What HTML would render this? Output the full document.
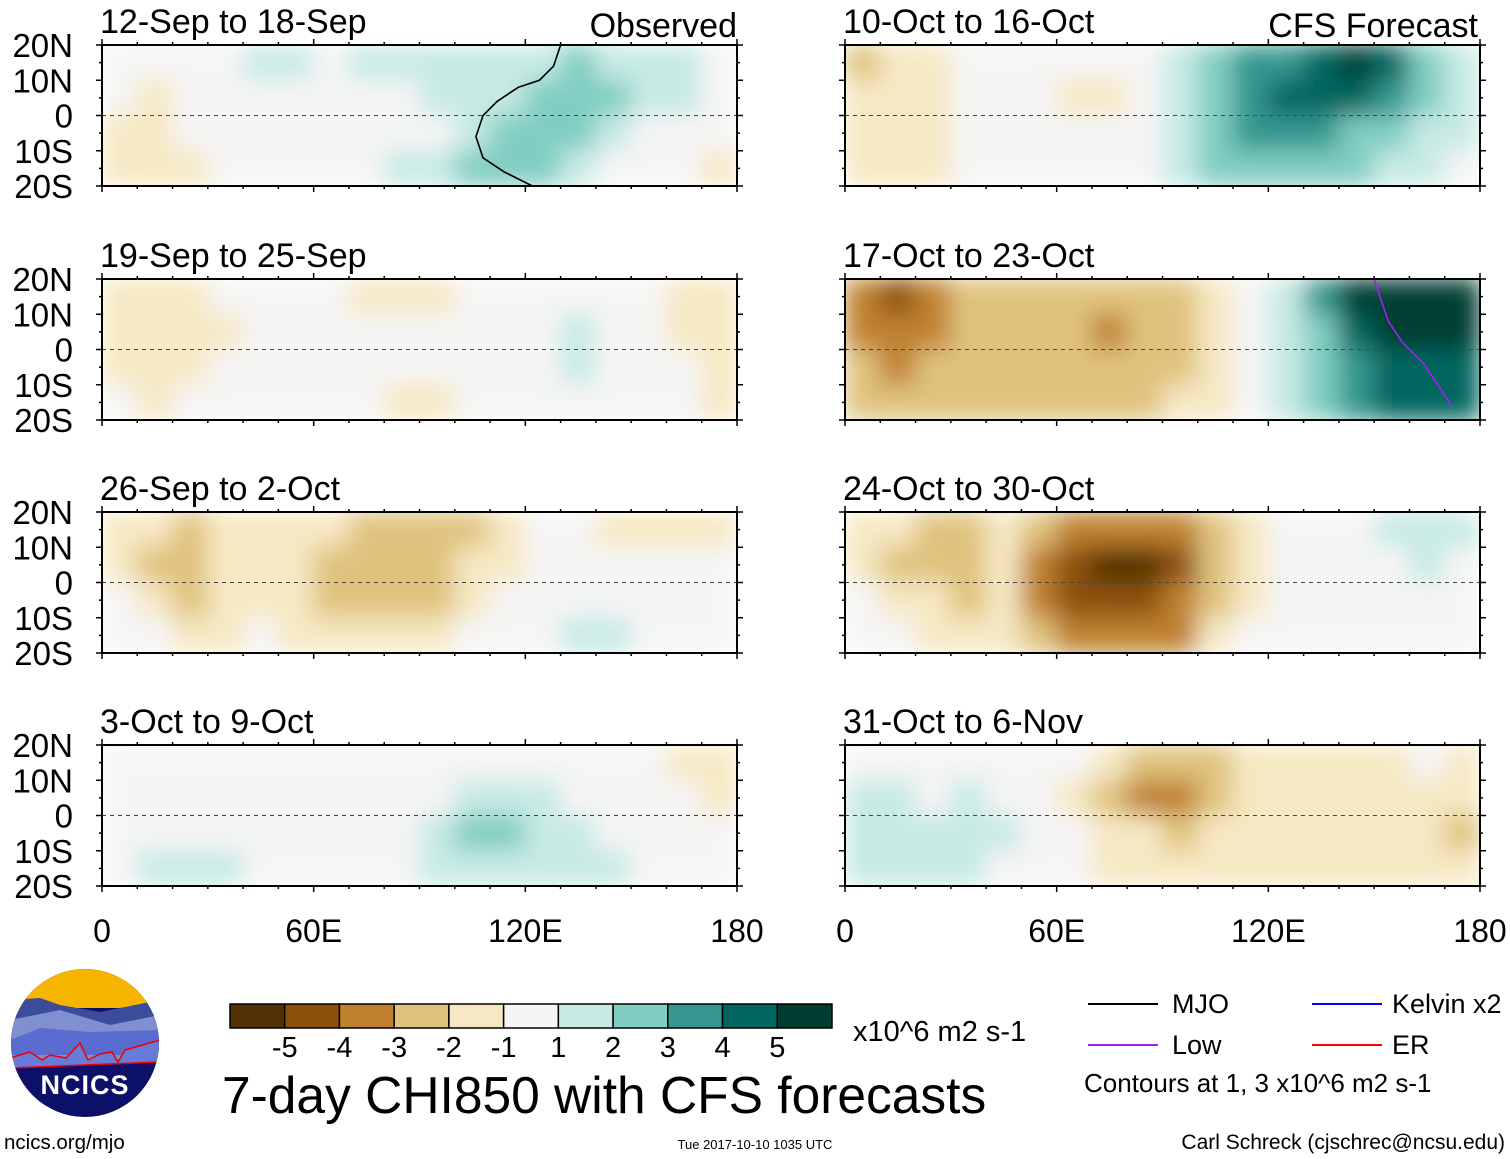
<!DOCTYPE html>
<html><head><meta charset="utf-8"><style>
html,body{margin:0;padding:0;background:#fff;}
svg{display:block;font-family:"Liberation Sans",sans-serif;}
</style></head><body>
<svg id="root" width="1510" height="1159" viewBox="0 0 1510 1159" xmlns="http://www.w3.org/2000/svg">
<defs>
<filter id="smooth" x="0" y="0" width="1" height="1" filterUnits="objectBoundingBox"><feGaussianBlur stdDeviation="12" edgeMode="duplicate"/></filter>
</defs>
<g id="panels"></g>
<g id="legend">
  <g>
    <clipPath id="logoclip"><circle cx="85" cy="1043" r="74"/></clipPath>
    <g clip-path="url(#logoclip)">
      <rect x="10" y="968" width="150" height="150" fill="#0c1068"/>
      <rect x="10" y="968" width="150" height="40" fill="#f7b500"/>
      <path d="M10 1000 L40 998 L60 1005 L100 1012 L160 1000 L160 1060 L10 1060Z" fill="#3a4c9a"/>
      <path d="M10 1020 L60 1010 L110 1025 L160 1015 L160 1060 L10 1060Z" fill="#7f8fd0"/>
      <path d="M10 1040 L40 1028 L90 1032 L160 1030 L160 1055 L10 1055Z" fill="#5a6cd0"/>
      <path d="M10 1058 L30 1052 L42 1060 L50 1055 L66 1058 L80 1043 L88 1060 L100 1054 L112 1052 L118 1062 L125 1050 L160 1040 L160 1062 L10 1068Z" fill="#6a7ad8" stroke="#e00" stroke-width="1.5"/>
    </g>
    <text x="85" y="1094" font-size="27" font-weight="bold" fill="#fff" text-anchor="middle" letter-spacing="1">NCICS</text>
  </g>
  <text x="4" y="1149" font-size="20.5">ncics.org/mjo</text>
  <g id="cbar"></g>
  <text x="853" y="1041" font-size="29">x10^6 m2 s-1</text>
  <text x="222" y="1113" font-size="51.5">7-day CHI850 with CFS forecasts</text>
  <text x="755" y="1149" font-size="13" text-anchor="middle">Tue 2017-10-10 1035 UTC</text>
  <text x="1505" y="1149" font-size="21" text-anchor="end">Carl Schreck (cjschrec@ncsu.edu)</text>
  <g><line x1="1088" y1="1004" x2="1158" y2="1004" stroke="#000" stroke-width="2"/><text x="1172" y="1013" font-size="27">MJO</text></g>
  <g><line x1="1312" y1="1004" x2="1382" y2="1004" stroke="#0000ff" stroke-width="2"/><text x="1392" y="1013" font-size="27">Kelvin x2</text></g>
  <g><line x1="1088" y1="1045" x2="1158" y2="1045" stroke="#a020f0" stroke-width="2"/><text x="1172" y="1054" font-size="27">Low</text></g>
  <g><line x1="1312" y1="1045" x2="1382" y2="1045" stroke="#ff0000" stroke-width="2"/><text x="1392" y="1054" font-size="27">ER</text></g>
  <text x="1084" y="1092" font-size="26">Contours at 1, 3 x10^6 m2 s-1</text>
</g>
</svg>
<script>
const NS="http://www.w3.org/2000/svg";
const palette=["#543005","#8c510a","#bf812d","#dfc27d","#f6e8c3","#f5f5f5","#c7eae5","#80cdc1","#35978f","#01665e","#003c30"];
const colorbarLabels=["-5","-4","-3","-2","-1","1","2","3","4","5"];
const latLabels=["20N","10N","0","10S","20S"];
const lonLabels=["0","60E","120E","180"];
const panelTitles=["12-Sep to 18-Sep","19-Sep to 25-Sep","26-Sep to 2-Oct","3-Oct to 9-Oct","10-Oct to 16-Oct","17-Oct to 23-Oct","24-Oct to 30-Oct","31-Oct to 6-Nov"];
const p1=[[0,0,0,0,1,1,0,1,1,1,1,1,1,2,1,1,1,0],[0,-1,0,0,0,0,0,0,0,1,1,1,2,2,2,1,1,0],[-1,-1,0,0,0,0,0,0,0,0,1,2,2,2,1,0,0,0],[-1,-1,-1,0,0,0,0,0,1,1,2,2,2,1,0,0,0,-1]];
const p2=[[-1,-1,-1,0,0,0,0,-1,-1,-1,0,0,0,0,0,0,-1,-1],[-1,-1,-1,-1,0,0,0,0,0,0,0,0,0,1,0,0,-1,-1],[-1,-1,-1,0,0,0,0,0,0,0,0,0,0,1,0,0,0,-1],[0,-1,0,0,0,0,0,0,-1,-1,0,0,0,0,0,0,0,-1]];
const p3=[[-1,-1,-2,-1,-1,-1,-1,-2,-2,-2,-2,-1,0,0,-1,-1,-1,-1],[-1,-2,-2,-1,-1,-1,-2,-2,-2,-2,-1,-1,0,0,0,0,0,0],[0,-1,-2,-1,-1,-1,-2,-2,-2,-2,-1,0,0,0,0,0,0,0],[0,0,-1,-1,0,-1,-1,-1,-1,-1,0,0,0,1,1,0,0,0]];
const p4=[[0,0,0,0,0,0,0,0,0,0,0,0,0,0,0,0,-1,-1],[0,0,0,0,0,0,0,0,0,0,1,1,1,0,0,0,0,-1],[0,0,0,0,0,0,0,0,0,1,2,2,1,1,0,0,0,0],[0,1,1,1,0,0,0,0,0,1,1,1,1,1,1,0,0,0]];
const p5=[[-2,-1,-1,0,0,0,0,0,0,1,2,3,3,4,5,4,2,1],[-1,-1,-1,0,0,0,-1,-1,0,1,2,3,4,4,4,3,2,1],[-1,-1,-1,0,0,0,0,0,0,1,2,3,3,3,2,2,1,1],[-1,-1,-1,0,0,0,0,0,0,1,2,2,2,2,2,1,1,0]];
const p6=[[-3,-4,-3,-2,-2,-2,-2,-2,-2,-2,-1,0,1,3,5,5,5,5],[-3,-3,-3,-2,-2,-2,-2,-3,-2,-2,-1,0,1,2,4,5,5,5],[-2,-3,-2,-2,-2,-2,-2,-2,-2,-2,-1,0,1,2,3,4,4,4],[-2,-2,-2,-2,-2,-2,-2,-2,-2,-1,-1,0,1,2,3,4,4,4]];
const p7=[[-1,-1,-2,-2,-1,-2,-3,-3,-3,-3,-2,-1,0,0,0,1,1,1],[-1,-2,-2,-2,-1,-3,-4,-5,-5,-4,-2,-1,0,0,0,0,1,0],[0,-1,-1,-2,-1,-3,-4,-4,-4,-3,-2,-1,0,0,0,0,0,0],[0,0,-1,-1,-1,-2,-3,-3,-3,-3,-1,0,0,0,0,0,0,0]];
const p8=[[0,0,0,0,0,0,0,-1,-2,-2,-2,-1,-1,-1,-1,-1,0,-1],[1,1,0,1,0,0,-1,-2,-3,-3,-2,-1,-1,-1,-1,-1,-1,-1],[1,1,1,1,1,0,0,-1,-1,-2,-1,-1,-1,-1,-1,-1,-1,-2],[1,1,1,1,0,0,0,-1,-1,-1,-1,-1,-1,-1,-1,-1,-1,-1]];
const fields=[p1,p2,p3,p4,p5,p6,p7,p8];
const mjoLon1=[130,128,124,118,112,108,106,108,114,122,128,132];
const mjoLat1=[20,14,10,8,4,0,-6,-12,-16,-20,-20,-20];
const lowLon6=[150,152,154,158,164,168,172];
const lowLat6=[20,14,8,2,-4,-10,-16];

const root=document.getElementById('panels');
const W=635,H=141;
const X0=[102,845],Y0=[45,279,512,745];
function el(t,a,p){const e=document.createElementNS(NS,t);for(const k in a)e.setAttribute(k,a[k]);p.appendChild(e);return e;}
function colorFor(v){return palette[v<0?Math.max(0,v+5):Math.min(10,v+5)];}
fields.forEach((f,pi)=>{
  const col=pi<4?0:1,row=pi%4,x0=X0[col],y0=Y0[row];
  const xs=lon=>x0+lon/180*W, ys=lat=>y0+(20-lat)/40*H;
  const g=el('g',{},root);
  
  
  const cid='clip'+pi;
  const cp=el('clipPath',{id:cid},g);el('rect',{x:x0,y:y0,width:W,height:H},cp);
  const cg=el('g',{'clip-path':'url(#'+cid+')'},g);
  const hg=el('g',{filter:'url(#smooth)'},cg);
  
  
  f.forEach((r,ri)=>r.forEach((v,ci)=>{
    const c=el('rect',{x:xs(ci*10)-0.5,y:ys(20-ri*10)-0.5,width:xs(10)-xs(0)+1,height:ys(0)-ys(10)+1,fill:colorFor(v)},hg);
    
    
  }));
  const eq=el('line',{x1:x0,y1:ys(0),x2:x0+W,y2:ys(0),stroke:'#444','stroke-width':1,'stroke-dasharray':'4,4'},cg);
  
  
  if(pi===0){const pts=mjoLon1.map((l,i)=>xs(l)+','+ys(mjoLat1[i])).join(' ');
    const pl=el('polyline',{points:pts,fill:'none',stroke:'#000','stroke-width':1.6},cg);
    }
  if(pi===5){const pts=lowLon6.map((l,i)=>xs(l)+','+ys(lowLat6[i])).join(' ');
    const pl=el('polyline',{points:pts,fill:'none',stroke:'#a020f0','stroke-width':1.6},cg);
    }
  const fr=el('rect',{x:x0,y:y0,width:W,height:H,fill:'none',stroke:'#000','stroke-width':2},g);
  
  
  for(let l=0;l<=180;l+=10){const big=l%60===0;
    el('line',{x1:xs(l),y1:y0,x2:xs(l),y2:y0-(big?6:3),stroke:'#000','stroke-width':1.5},g);
    el('line',{x1:xs(l),y1:y0+H,x2:xs(l),y2:y0+H+(big?6:3),stroke:'#000','stroke-width':1.5},g);}
  for(let la=-20;la<=20;la+=5){el('line',{x1:x0,y1:ys(la),x2:x0-(la%10===0?6:3),y2:ys(la),stroke:'#000','stroke-width':1.5},g);
    el('line',{x1:x0+W,y1:ys(la),x2:x0+W+(la%10===0?6:3),y2:ys(la),stroke:'#000','stroke-width':1.5},g);}
  const t=el('text',{x:x0-2,y:y0-12,'font-size':34},g);t.textContent=panelTitles[pi];
  
  
  if(col===0){latLabels.forEach((s,i)=>{const tt=el('text',{x:73,y:ys(20-i*10)+12,'font-size':33,'text-anchor':'end'},g);tt.textContent=s;
    });}
});
[["Observed",737],["CFS Forecast",1478]].forEach(([s,x])=>{const t=el('text',{x:x,y:37,'font-size':34,'text-anchor':'end'},root);t.textContent=s;
  });
X0.forEach(x0=>lonLabels.forEach((s,i)=>{const t=el('text',{x:x0+i*60/180*W,y:942,'font-size':32,'text-anchor':'middle'},root);t.textContent=s;
  }));
const cb=document.getElementById('cbar');const cx0=230,cw=602/11;
palette.forEach((c,i)=>{const r=el('rect',{x:cx0+i*cw,y:1004,width:cw,height:24,fill:c,stroke:'#000','stroke-width':1.5},cb);
  });
colorbarLabels.forEach((s,i)=>{const t=el('text',{x:cx0+(i+1)*cw,y:1057,'font-size':29,'text-anchor':'middle'},cb);t.textContent=s;
  });
</script>
</body></html>
